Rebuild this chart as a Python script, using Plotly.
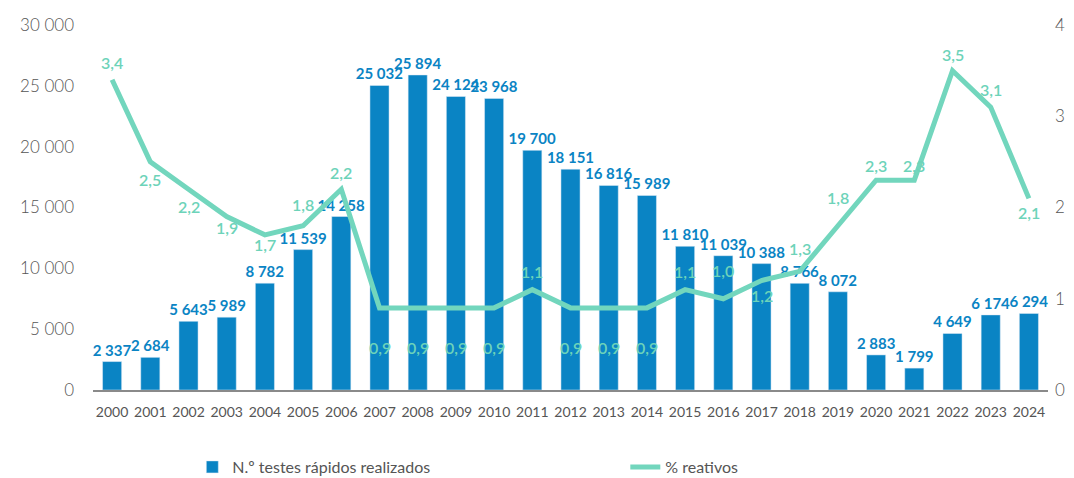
import plotly.graph_objects as go

years = [str(y) for y in range(2000, 2025)]
testes = [2337, 2684, 5643, 5989, 8782, 11539, 14258, 25032, 25894, 24124, 23968,
          19700, 18151, 16816, 15989, 11810, 11039, 10388, 8766, 8072, 2883, 1799,
          4649, 6174, 6294]
reativos = [3.4, 2.5, 2.2, 1.9, 1.7, 1.8, 2.2, 0.9, 0.9, 0.9, 0.9, 1.1, 0.9, 0.9,
            0.9, 1.1, 1.0, 1.2, 1.3, 1.8, 2.3, 2.3, 3.5, 3.1, 2.1]
# vertical offset (px) of each "% reativos" label from its point (style only)
label_shift = [17, -18, -17, -11, -10, 21, 17, -40, -40, -40, -40, 18, -40, -40,
               -40, 18, 28, -15, 23, 28, 15, 15, 16, 18, -14]

BLUE = "#0a84c4"
GREEN = "#72d6bd"
LABEL_GREEN = "#6dd3b9"
GREY = "#555555"
FONT = "Lato"

fig = go.Figure()
fig.add_trace(go.Bar(
    x=years, y=testes, name="N.º testes rápidos realizados",
    marker_color=BLUE, texttemplate="%{y:,}", textposition="outside",
    constraintext="none",
    textfont=dict(family=FONT, size=15, color=BLUE, weight="bold"),
    cliponaxis=False, yaxis="y",
))
fig.add_trace(go.Scatter(
    x=years, y=reativos, name="% reativos", mode="lines",
    line=dict(color=GREEN, width=5),
    cliponaxis=False, yaxis="y2",
))

# category axis: annotation x given as the category index
for i, (v, dy) in enumerate(zip(reativos, label_shift)):
    fig.add_annotation(
        x=i, y=v, xref="x", yref="y2", yshift=dy, showarrow=False,
        text=f"{v:.1f}".replace(".", ","), xanchor="center", yanchor="middle",
        font=dict(family=FONT, size=16, color=LABEL_GREEN, weight=600),
    )

fig.update_layout(
    width=1074, height=478,
    margin=dict(l=93, r=26, t=25, b=88, autoexpand=False),
    paper_bgcolor="white", plot_bgcolor="white",
    separators=", ",
    bargap=0.5,
    font=dict(family=FONT, color=GREY),
    showlegend=True,
    legend=dict(orientation="h", x=0.104, y=0.023, yref="container",
                xanchor="left", yanchor="middle",
                font=dict(family=FONT, size=16, color=GREY),
                entrywidth=388, entrywidthmode="pixels",
                traceorder="normal"),
    xaxis=dict(type="category", range=[-0.5, 24.5], autorange=False,
               showgrid=False, showline=True, linecolor="#8a8a8a",
               linewidth=2, ticks="", automargin=False,
               tickfont=dict(family=FONT, size=14, color=GREY),
               tickangle=0, ticklabelstandoff=8),
    yaxis=dict(range=[0, 30000], dtick=5000, showgrid=False, zeroline=False,
               automargin=False, tickformat=",",
               tickfont=dict(family=FONT, size=17, color=GREY, weight=300),
               ticklabelstandoff=18),
    yaxis2=dict(range=[0, 4], dtick=1, overlaying="y", side="right", showgrid=False,
                zeroline=False, automargin=False,
                tickfont=dict(family=FONT, size=17, color=GREY, weight=300),
                ticklabelstandoff=6),
)

post = """
document.body.style.margin = '0';
document.body.style.overflow = 'hidden';
var gd = document.getElementById('{plot_id}');
Plotly.relayout(gd, {width: 1074, height: 478});
"""
fig.write_html("out.html", post_script=post,
               config={"responsive": False, "displayModeBar": False})
